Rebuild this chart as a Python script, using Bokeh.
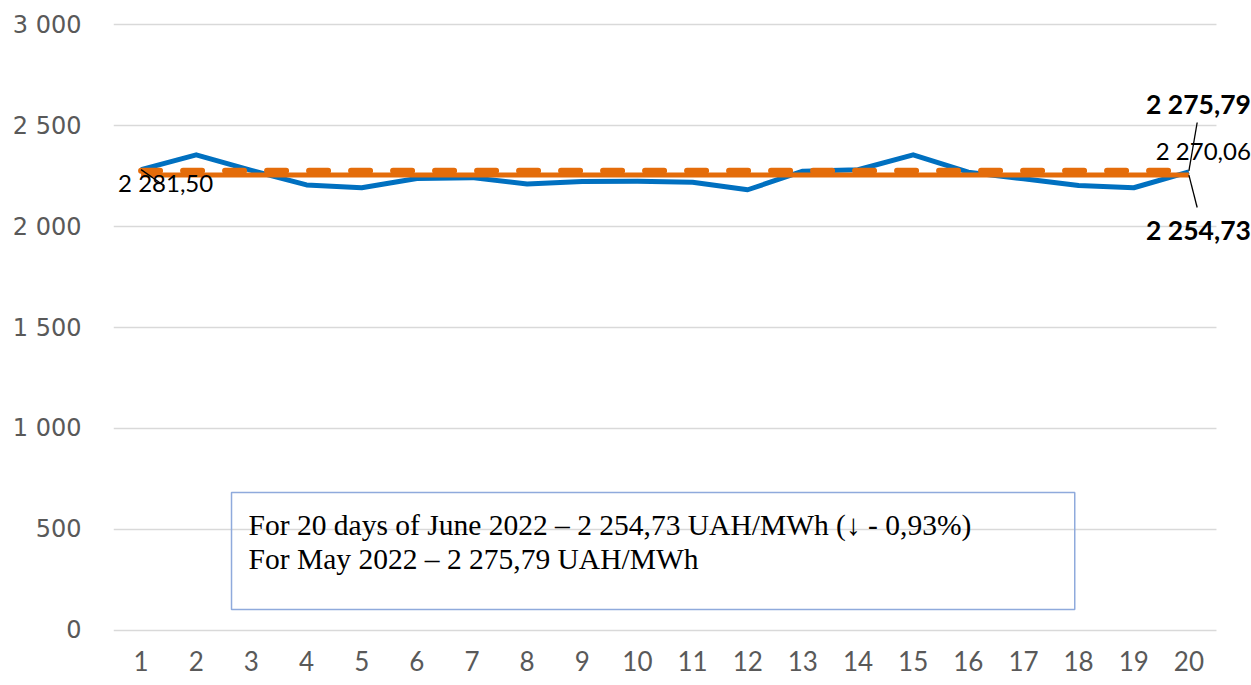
from bokeh.plotting import figure
from bokeh.models import Range1d, FixedTicker, BoxAnnotation, Label
from bokeh.embed import file_html
from bokeh.resources import INLINE

# ---- data ----
days = list(range(1, 21))
prices = [2281.50, 2355, 2278, 2206, 2192, 2238, 2242, 2211, 2223, 2224,
          2219, 2182, 2274, 2281, 2355, 2269, 2236, 2203, 2192, 2270.06]
june_avg = 2254.73
may_avg = 2275.79
y_ticks = [0, 500, 1000, 1500, 2000, 2500, 3000]
y_tick_labels = ["0", "500", "1 000", "1 500", "2 000", "2 500", "3 000"]
first_label = "2 281,50"
last_label = "2 270,06"
may_label = "2 275,79"
june_label = "2 254,73"
note_lines = ["For 20 days of June 2022 \u2013 2 254,73 UAH/MWh (\u2193 - 0,93%)",
              "For May 2022 \u2013 2 275,79 UAH/MWh"]

BLUE = "#0070C0"
ORANGE = "#E46C0A"
SERIF = "'Liberation Serif', 'DejaVu Serif', serif"

x_lo = days[0] - 0.5
x_hi = days[-1] + 0.5

p = figure(x_range=Range1d(x_lo, 21.135), y_range=Range1d(-20, 3020),
           frame_width=1138, frame_height=614,
           min_border_left=113, min_border_right=0, min_border_top=20, min_border_bottom=51,
           output_backend="svg", toolbar_location=None)

p.outline_line_color = None
p.xgrid.visible = False
p.ygrid.visible = False
p.yaxis.ticker = FixedTicker(ticks=y_ticks)
p.yaxis.major_label_overrides = dict(zip(y_ticks, y_tick_labels))
p.xaxis.ticker = FixedTicker(ticks=days)
for ax in (p.xaxis[0], p.yaxis[0]):
    ax.axis_line_color = None
    ax.major_tick_line_color = None
    ax.minor_tick_line_color = None
    ax.major_label_text_color = "#595959"
p.yaxis.major_label_text_font = "DejaVu Sans"
p.yaxis.major_label_text_font_size = "24px"
p.yaxis.major_label_standoff = 26
p.xaxis.major_label_text_font = "Lato"
p.xaxis.major_label_text_font_size = "26px"
p.xaxis.major_label_standoff = 10

# horizontal gridlines across the category span
p.segment(x0=[x_lo] * len(y_ticks), x1=[x_hi] * len(y_ticks), y0=y_ticks, y1=y_ticks,
          line_color="#D9D9D9", line_width=1.5)

# lines
p.line(days, prices, line_color=BLUE, line_width=5, line_join="round")
p.line(days, [june_avg] * len(days), line_color=ORANGE, line_width=5)
p.line(days, [may_avg] * len(days), line_color=ORANGE, line_width=6,
       line_dash="19 23", line_cap="round")

# leader lines
first_x = days[0]
last_x = days[-1]
p.segment(x0=[first_x], y0=[prices[0]], x1=[first_x + 0.42], y1=[2202],
          line_color="black", line_width=1.3)
p.segment(x0=[last_x, last_x], y0=[may_avg, june_avg],
          x1=[last_x + 0.15, last_x + 0.15], y1=[2515, 2094],
          line_color="black", line_width=1.3)

# data labels
def add_label(x, y, text, dx, dy, size, bold=False, align="left"):
    p.add_layout(Label(x=x, y=y, text=text, x_offset=dx, y_offset=dy,
                       text_font="Lato", text_font_size=size,
                       text_font_style="bold" if bold else "normal",
                       text_color="black", text_align=align, text_baseline="middle"))

add_label(first_x, prices[0], first_label, -23, -13, "24px")
add_label(last_x, prices[-1], last_label, 62, 21, "24px", align="right")
add_label(last_x, may_avg, may_label, 62, 67, "26.5px", bold=True, align="right")
add_label(last_x, june_avg, june_label, 62, -55, "26.5px", bold=True, align="right")

# note box
p.add_layout(BoxAnnotation(left=2.64, right=17.93, bottom=104, top=683,
                           fill_alpha=0, line_color="#8FAADC", line_alpha=1.0,
                           line_width=1.5))
p.add_layout(Label(x=2.95, y=520, text=note_lines[0], text_font=SERIF,
                   text_font_size="29.5px", text_color="black", text_baseline="middle"))
p.add_layout(Label(x=2.95, y=356, text=note_lines[1], text_font=SERIF,
                   text_font_size="29.5px", text_color="black", text_baseline="middle"))

open("out.html", "w").write(file_html(p, INLINE))
